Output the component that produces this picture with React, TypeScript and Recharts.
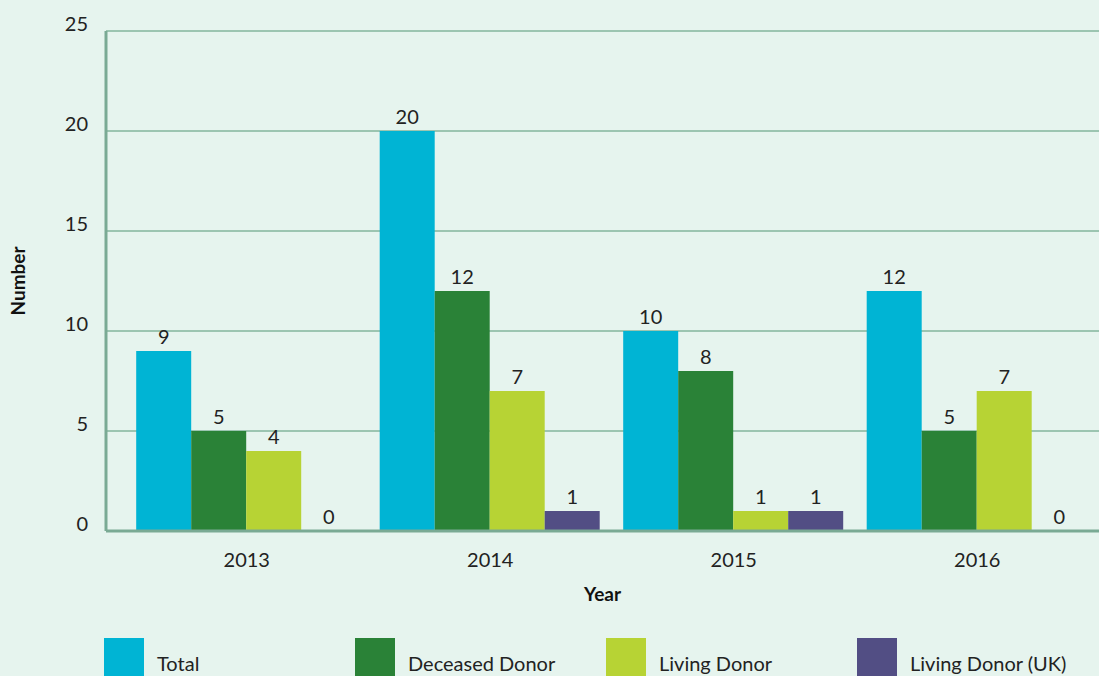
import { Bar, BarChart, CartesianGrid, Legend, XAxis, YAxis, Label } from "recharts";

const years = ["2013", "2014", "2015", "2016"];
const total = [9, 20, 10, 12];
const deceasedDonor = [5, 12, 8, 5];
const livingDonor = [4, 7, 1, 7];
const livingDonorUK = [0, 1, 1, 0];
const yTicks = [0, 5, 10, 15, 20, 25];

const series = [
  { key: "total", name: "Total", color: "#00b4d4" },
  { key: "deceased", name: "Deceased Donor", color: "#2a8237" },
  { key: "living", name: "Living Donor", color: "#b7d334" },
  { key: "livingUK", name: "Living Donor (UK)", color: "#524e84" },
];

const data = years.map((year, i) => ({
  year,
  total: total[i],
  deceased: deceasedDonor[i],
  living: livingDonor[i],
  livingUK: livingDonorUK[i],
}));

const FONT = "Lato, 'Open Sans', sans-serif";
const AXIS = "#7aaa94";

// bar + its value on top, drawn together so zero bars still get a "0"
const BarWithValue = (props: any) => {
  const { x, y, width, height, fill, value } = props;
  const v = Array.isArray(value) ? value[1] - value[0] : value;
  return (
    <g>
      {height > 0 && <rect x={x} y={y} width={width} height={height} fill={fill} />}
      <text x={x + width / 2} y={y - 7} textAnchor="middle" fill="#222" fontSize={20} fontFamily={FONT}>
        {v}
      </text>
    </g>
  );
};

const LegendRow = () => (
  <div style={{ display: "flex", fontFamily: FONT, fontSize: 20, color: "#222" }}>
    {series.map((s) => (
      <div key={s.key} style={{ width: 251, height: 38, display: "flex", alignItems: "flex-start" }}>
        <div style={{ width: 40, height: 38, background: s.color, flexShrink: 0 }} />
        <span style={{ marginLeft: 13, lineHeight: "22px", marginTop: 14, whiteSpace: "nowrap" }}>{s.name}</span>
      </div>
    ))}
  </div>
);

export default function App() {
  return (
    <div style={{ position: "absolute", top: 0, left: 0, width: 1099, height: 676, background: "#e6f4ee", overflow: "hidden" }}>
      <BarChart
        width={1099}
        height={676}
        data={data}
        margin={{ top: 31, right: 0, left: 46, bottom: 17 }}
        barCategoryGap="4.6%"
        barGap={0}
        style={{ fontFamily: FONT }}
      >
        <CartesianGrid vertical={false} stroke="#9cc5b1" strokeWidth={2} />
        <XAxis
          dataKey="year"
          height={90}
          padding={{ left: 19, right: 0 }}
          tickLine={false}
          tickSize={0}
          tickMargin={22}
          axisLine={{ stroke: AXIS, strokeWidth: 3 }}
          tick={{ fill: "#222", fontSize: 20 }}
        >
          <Label value="Year" position="insideBottom" offset={20} style={{ fontWeight: 700, fontSize: 19, fill: "#111" }} />
        </XAxis>
        <YAxis
          width={60}
          domain={[0, 25]}
          ticks={yTicks}
          tickLine={false}
          tickSize={0}
          tickMargin={18}
          axisLine={{ stroke: AXIS, strokeWidth: 3 }}
          tick={{ fill: "#222", fontSize: 20, dy: -7 }}
        >
          <Label value="Number" angle={-90} position="insideLeft" offset={-28} style={{ fontWeight: 700, fontSize: 19, fill: "#111", textAnchor: "middle" }} />
        </YAxis>
        <Legend verticalAlign="bottom" align="left" height={38} content={() => <LegendRow />} wrapperStyle={{ left: 104, top: 638 }} />
        {series.map((s) => (
          <Bar key={s.key} dataKey={s.key} name={s.name} fill={s.color} isAnimationActive={false} shape={BarWithValue} />
        ))}
      </BarChart>
    </div>
  );
}
